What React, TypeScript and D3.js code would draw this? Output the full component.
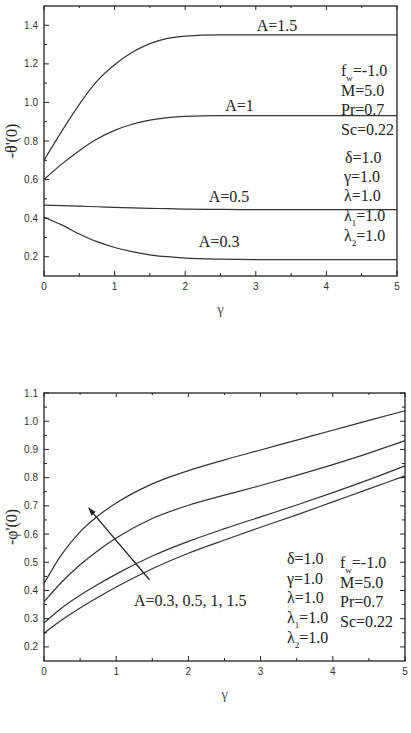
import React from "react";
import * as d3 from "d3";

// top panel: -theta'(0) vs gamma
const gammaTop = [0, 0.25, 0.5, 0.75, 1, 1.25, 1.5, 1.75, 2, 2.5, 3, 4, 5];
const thetaA15 = [0.7, 0.85, 0.99, 1.11, 1.195, 1.26, 1.305, 1.332, 1.344, 1.35, 1.35, 1.35, 1.35];
const thetaA1 = [0.6, 0.68, 0.75, 0.81, 0.855, 0.887, 0.908, 0.921, 0.928, 0.932, 0.932, 0.932, 0.932];
const thetaA05 = [0.468, 0.465, 0.462, 0.459, 0.456, 0.453, 0.451, 0.449, 0.447, 0.445, 0.444, 0.444, 0.444];
const thetaA03 = [0.405, 0.365, 0.318, 0.278, 0.248, 0.226, 0.21, 0.2, 0.193, 0.187, 0.185, 0.185, 0.185];
const topLabels = [
  { text: "A=1.5", x: 3.3, y: 1.37 },
  { text: "A=1", x: 2.77, y: 0.956 },
  { text: "A=0.5", x: 2.62, y: 0.484 },
  { text: "A=0.3", x: 2.48, y: 0.251 },
];

// bottom panel: -phi'(0) vs gamma
const gammaBot = [0, 0.25, 0.5, 0.75, 1, 1.5, 2, 2.5, 3, 3.5, 4, 4.5, 5];
const phiA15 = [0.425, 0.53, 0.608, 0.665, 0.71, 0.778, 0.825, 0.863, 0.898, 0.933, 0.968, 1.003, 1.037];
const phiA1 = [0.36, 0.431, 0.491, 0.542, 0.586, 0.655, 0.702, 0.738, 0.772, 0.808, 0.846, 0.887, 0.931];
const phiA05 = [0.285, 0.339, 0.383, 0.422, 0.458, 0.522, 0.574, 0.619, 0.661, 0.703, 0.747, 0.793, 0.842];
const phiA03 = [0.248, 0.296, 0.338, 0.376, 0.412, 0.477, 0.532, 0.579, 0.624, 0.668, 0.714, 0.76, 0.806];
const arrowPts = [
  [1.46, 0.438],
  [0.62, 0.692],
];

const serif = "'Liberation Serif', 'Times New Roman', serif";
const sans = "'Liberation Sans', Arial, sans-serif";
const lineCol = "#333";

type PanelProps = {
  left: number;
  right: number;
  top: number;
  bottom: number;
  yDomain: [number, number];
  yMajor: number[];
  yMinor: number[];
  xs: number[];
  series: number[][];
  yLabel: string;
  rightTicks: boolean;
  children?: (x: d3.ScaleLinear<number, number>, y: d3.ScaleLinear<number, number>) => React.ReactNode;
};

function Panel(p: PanelProps) {
  const x = d3.scaleLinear().domain([0, 5]).range([p.left, p.right]);
  const y = d3.scaleLinear().domain(p.yDomain).range([p.bottom, p.top]);
  const line = d3
    .line<number>()
    .x((_, i) => x(p.xs[i]))
    .y((d) => y(d))
    .curve(d3.curveMonotoneX);
  const xMajor = [0, 1, 2, 3, 4, 5];
  const xMinor = [0.5, 1.5, 2.5, 3.5, 4.5];
  const midY = (p.top + p.bottom) / 2;
  return (
    <g>
      {p.series.map((s, i) => (
        <path key={i} d={line(s) || ""} fill="none" stroke={lineCol} strokeWidth={1.2} />
      ))}
      <rect
        x={p.left}
        y={p.top}
        width={p.right - p.left}
        height={p.bottom - p.top}
        fill="none"
        stroke="#222"
        strokeWidth={1.3}
      />
      {p.yMajor.map((v) => (
        <g key={"ym" + v}>
          <line x1={p.left} x2={p.left + 5} y1={y(v)} y2={y(v)} stroke="#222" />
          {p.rightTicks && <line x1={p.right} x2={p.right - 5} y1={y(v)} y2={y(v)} stroke="#222" />}
          <text x={p.left - 6} y={y(v)} dy="0.35em" textAnchor="end" fontFamily={sans} fontSize={10} fill="#333">
            {v.toFixed(1)}
          </text>
        </g>
      ))}
      {p.yMinor.map((v) => (
        <g key={"yn" + v}>
          <line x1={p.left} x2={p.left + 3} y1={y(v)} y2={y(v)} stroke="#222" />
          {p.rightTicks && <line x1={p.right} x2={p.right - 3} y1={y(v)} y2={y(v)} stroke="#222" />}
        </g>
      ))}
      {xMajor.map((v) => (
        <g key={"xm" + v}>
          <line x1={x(v)} x2={x(v)} y1={p.bottom} y2={p.bottom - 5} stroke="#222" />
          <line x1={x(v)} x2={x(v)} y1={p.top} y2={p.top + 4} stroke="#222" />
          <text x={x(v)} y={p.bottom + 10} dy="0.35em" textAnchor="middle" fontFamily={sans} fontSize={10} fill="#333">
            {v}
          </text>
        </g>
      ))}
      {xMinor.map((v) => (
        <g key={"xn" + v}>
          <line x1={x(v)} x2={x(v)} y1={p.bottom} y2={p.bottom - 3} stroke="#222" />
          <line x1={x(v)} x2={x(v)} y1={p.top} y2={p.top + 2} stroke="#222" />
        </g>
      ))}
      <text x={(p.left + p.right) / 2} y={p.bottom + 33} dy="0.35em" textAnchor="middle" fontFamily={serif} fontSize={15} fill="#555">
        γ
      </text>
      <text
        transform={`translate(11,${midY}) rotate(-90)`}
        textAnchor="middle"
        dy="0.35em"
        fontFamily={serif}
        fontSize={16}
        fill="#222"
      >
        {p.yLabel}
      </text>
      {p.children && p.children(x, y)}
    </g>
  );
}

const Param = ({ x, y, name, sub, value }: { x: number; y: number; name: string; sub?: string; value?: string }) => (
  <text x={x} y={y} fontFamily={serif} fontSize={16} fill="#222">
    {name}
    {sub && (
      <tspan fontSize={9} dy={5}>
        {sub}
      </tspan>
    )}
    {value && <tspan dy={sub ? -5 : 0}>{value}</tspan>}
  </text>
);

export default function App() {
  return (
    <svg width={411} height={733} style={{ position: "absolute", left: 0, top: 0, background: "#fff" }}>
      <defs>
        <marker id="ah" viewBox="0 0 10 10" refX={9} refY={5} markerWidth={7} markerHeight={7} orient="auto">
          <path d="M0,1.5 L10,5 L0,8.5 z" fill="#222" />
        </marker>
      </defs>
      <Panel
        left={44}
        right={397}
        top={6}
        bottom={276}
        yDomain={[0.1, 1.5]}
        yMajor={[0.2, 0.4, 0.6, 0.8, 1.0, 1.2, 1.4]}
        yMinor={[0.3, 0.5, 0.7, 0.9, 1.1, 1.3]}
        xs={gammaTop}
        series={[thetaA15, thetaA1, thetaA05, thetaA03]}
        yLabel="-θ'(0)"
        rightTicks={false}
      >
        {(x, y) => (
          <g>
            {topLabels.map((l) => (
              <text key={l.text} x={x(l.x)} y={y(l.y)} textAnchor="middle" fontFamily={serif} fontSize={16} fill="#222">
                {l.text}
              </text>
            ))}
          </g>
        )}
      </Panel>
      <Param x={341} y={76} name="f" sub="w" value="=-1.0" />
      <Param x={341} y={96} name="M=5.0" />
      <Param x={341} y={115} name="Pr=0.7" />
      <Param x={341} y={135} name="Sc=0.22" />
      <Param x={345} y={163} name="δ=1.0" />
      <Param x={344} y={182} name="γ=1.0" />
      <Param x={344} y={201} name="λ=1.0" />
      <Param x={344} y={221} name="λ" sub="1" value="=1.0" />
      <Param x={344} y={241} name="λ" sub="2" value="=1.0" />

      <Panel
        left={44}
        right={405}
        top={393}
        bottom={661}
        yDomain={[0.15, 1.1]}
        yMajor={[0.2, 0.3, 0.4, 0.5, 0.6, 0.7, 0.8, 0.9, 1.0, 1.1]}
        yMinor={[0.25, 0.35, 0.45, 0.55, 0.65, 0.75, 0.85, 0.95, 1.05]}
        xs={gammaBot}
        series={[phiA15, phiA1, phiA05, phiA03]}
        yLabel="-φ'(0)"
        rightTicks={true}
      >
        {(x, y) => (
          <line
            x1={x(arrowPts[0][0])}
            y1={y(arrowPts[0][1])}
            x2={x(arrowPts[1][0])}
            y2={y(arrowPts[1][1])}
            stroke="#222"
            strokeWidth={1.2}
            markerEnd="url(#ah)"
          />
        )}
      </Panel>
      <text x={134} y={606} fontFamily={serif} fontSize={16} fill="#222">
        A=0.3, 0.5, 1, 1.5
      </text>
      <Param x={287} y={564} name="δ=1.0" />
      <Param x={287} y={584} name="γ=1.0" />
      <Param x={287} y={603} name="λ=1.0" />
      <Param x={287} y={623} name="λ" sub="1" value="=1.0" />
      <Param x={287} y={643} name="λ" sub="2" value="=1.0" />
      <Param x={340} y={568} name="f" sub="w" value="=-1.0" />
      <Param x={340} y={588} name="M=5.0" />
      <Param x={340} y={607} name="Pr=0.7" />
      <Param x={340} y={627} name="Sc=0.22" />
    </svg>
  );
}
